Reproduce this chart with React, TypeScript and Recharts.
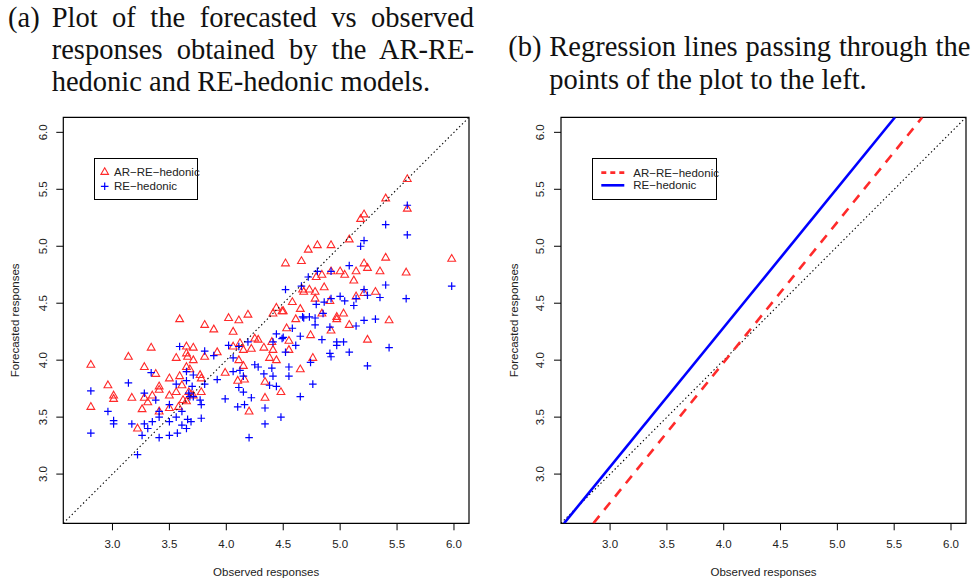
import React from "react";
import { ScatterChart, Scatter, XAxis, YAxis, Legend, ReferenceArea, Label } from "recharts";

// axis setup (same for both panels)
const axisTicks = [3.0, 3.5, 4.0, 4.5, 5.0, 5.5, 6.0];
const axisTickLabels = ["3.0", "3.5", "4.0", "4.5", "5.0", "5.5", "6.0"];
const axisRange = [2.568, 6.132];
const seriesNames = ["AR\u2212RE\u2212hedonic", "RE\u2212hedonic"];

// (observed, forecasted) for the AR-RE-hedonic model
const arPoints = [
  [2.81, 3.96], [2.81, 3.59], [2.96, 3.78], [3.01, 3.69], [3.01, 3.66], [3.14, 4.03], [3.17, 3.67], [3.22, 3.4],
  [3.26, 3.57], [3.28, 3.94], [3.28, 3.67], [3.31, 3.63], [3.34, 4.11], [3.35, 3.69], [3.38, 3.88], [3.41, 3.77],
  [3.41, 3.74], [3.41, 3.55], [3.5, 3.84], [3.5, 3.69], [3.5, 3.58], [3.56, 4.02], [3.56, 3.72], [3.58, 3.59],
  [3.59, 4.36], [3.59, 3.86], [3.61, 3.78], [3.62, 3.65], [3.65, 4.12], [3.65, 3.94], [3.65, 4.06], [3.66, 4.03],
  [3.65, 3.64], [3.67, 3.72], [3.68, 3.92], [3.69, 3.7], [3.71, 4.11], [3.71, 4.0], [3.71, 3.69], [3.77, 3.87],
  [3.78, 3.84], [3.78, 3.72], [3.81, 4.31], [3.81, 4.03], [3.89, 4.27], [3.92, 4.07], [3.99, 3.89], [4.02, 4.37],
  [4.06, 4.25], [4.06, 4.12], [4.1, 3.82], [4.11, 4.35], [4.11, 4.0], [4.12, 4.15], [4.15, 4.09], [4.15, 3.95],
  [4.16, 3.83], [4.19, 4.4], [4.2, 3.55], [4.22, 4.1], [4.25, 4.19], [4.28, 4.18], [4.33, 4.11], [4.34, 3.81],
  [4.34, 3.67], [4.38, 4.02], [4.4, 4.16], [4.41, 4.09], [4.41, 4.41], [4.44, 4.0], [4.44, 4.46], [4.48, 3.72],
  [4.49, 4.43], [4.5, 4.43], [4.52, 4.85], [4.53, 4.28], [4.55, 4.17], [4.55, 4.09], [4.58, 4.51], [4.61, 4.36],
  [4.65, 3.92], [4.65, 4.45], [4.66, 4.87], [4.67, 4.62], [4.68, 4.6], [4.72, 4.97], [4.73, 4.62], [4.74, 4.22],
  [4.76, 4.02], [4.78, 4.6], [4.78, 4.54], [4.79, 4.73], [4.8, 5.01], [4.84, 4.75], [4.84, 4.41], [4.86, 4.64],
  [4.91, 4.52], [4.92, 5.01], [4.92, 4.78], [4.92, 4.26], [4.97, 4.38], [4.97, 4.36], [5.0, 4.78], [5.03, 4.41],
  [5.04, 4.75], [5.08, 5.06], [5.08, 4.31], [5.12, 4.7], [5.14, 4.78], [5.14, 4.56], [5.18, 5.24], [5.21, 5.28],
  [5.21, 4.85], [5.21, 4.59], [5.24, 4.81], [5.24, 4.18], [5.31, 4.6], [5.35, 4.78], [5.4, 5.42], [5.4, 4.9],
  [5.43, 4.35], [5.58, 4.77], [5.59, 5.59], [5.59, 5.33], [5.98, 4.89],
];

// (observed, forecasted) for the RE-hedonic model
const rePoints = [
  [2.81, 3.73], [2.81, 3.36], [2.96, 3.55], [3.01, 3.47], [3.01, 3.44], [3.14, 3.8], [3.17, 3.44], [3.22, 3.17],
  [3.26, 3.34], [3.28, 3.71], [3.28, 3.44], [3.31, 3.4], [3.34, 3.89], [3.35, 3.46], [3.38, 3.65], [3.41, 3.55],
  [3.41, 3.5], [3.41, 3.32], [3.5, 3.61], [3.5, 3.46], [3.5, 3.34], [3.56, 3.79], [3.56, 3.5], [3.57, 3.36],
  [3.59, 4.12], [3.61, 3.55], [3.61, 3.43], [3.65, 3.9], [3.65, 3.82], [3.65, 3.4], [3.66, 3.48], [3.67, 3.71],
  [3.68, 3.68], [3.69, 3.46], [3.7, 3.77], [3.71, 3.87], [3.71, 3.68], [3.77, 3.65], [3.78, 3.61], [3.78, 3.49],
  [3.81, 4.08], [3.81, 3.79], [3.89, 4.04], [3.92, 3.83], [3.99, 3.66], [4.02, 4.13], [4.06, 4.02], [4.06, 3.9],
  [4.1, 3.59], [4.11, 4.12], [4.11, 3.76], [4.12, 3.91], [4.15, 3.86], [4.15, 3.72], [4.16, 3.61], [4.19, 4.16],
  [4.2, 3.32], [4.22, 3.67], [4.25, 3.96], [4.28, 3.94], [4.33, 3.88], [4.34, 3.58], [4.34, 3.44], [4.38, 3.78],
  [4.4, 3.93], [4.41, 3.86], [4.41, 4.16], [4.44, 3.77], [4.44, 4.23], [4.48, 3.5], [4.49, 4.19], [4.5, 4.2],
  [4.52, 4.62], [4.52, 4.07], [4.55, 3.94], [4.55, 3.86], [4.58, 4.28], [4.61, 4.13], [4.65, 3.68], [4.65, 4.21],
  [4.66, 4.65], [4.67, 4.38], [4.68, 4.37], [4.72, 4.73], [4.73, 4.38], [4.74, 3.98], [4.76, 3.79], [4.78, 4.37],
  [4.78, 4.31], [4.79, 4.49], [4.8, 4.78], [4.84, 4.18], [4.85, 4.41], [4.86, 4.51], [4.91, 4.29], [4.92, 4.78],
  [4.92, 4.54], [4.92, 4.03], [4.91, 4.06], [4.97, 4.13], [4.97, 4.16], [5.0, 4.56], [5.03, 4.16], [5.04, 4.52],
  [5.08, 4.83], [5.08, 4.07], [5.12, 4.48], [5.14, 4.54], [5.14, 4.3], [5.18, 5.0], [5.21, 5.05], [5.21, 4.62],
  [5.21, 4.35], [5.24, 4.57], [5.24, 3.95], [5.31, 4.36], [5.35, 4.55], [5.4, 5.19], [5.4, 4.66], [5.43, 4.11],
  [5.58, 4.54], [5.59, 5.36], [5.59, 5.1], [5.98, 4.65],
];

// line end points where they meet the plot frame
const diagonalLine = [[2.568, 2.568], [6.132, 6.132]];
const arFitLine = [[2.853, 2.568], [5.747, 6.132]];
const reFitLine = [[2.595, 2.568], [5.507, 6.132]];

const captionA = [
  "Plot of the forecasted vs observed",
  "responses obtained by the AR-RE-",
  "hedonic and RE-hedonic models.",
];
const captionB = ["Regression lines passing through the", "points of the plot to the left."];

const SANS = "'Liberation Sans', Arial, Helvetica, sans-serif";
const SERIF = "'Liberation Serif', 'Times New Roman', serif";
const RED = "#ff2a2a";
const BLUE = "#0000ff";

const toXY = (pts: number[][]) => pts.map(([x, y]) => ({ x, y }));

const XTick = (props: any) => {
  const { x, y, payload } = props;
  return (
    <text x={x} y={y + 18} textAnchor="middle" fontSize={11.5} fontFamily={SANS} fill="#222">
      {axisTickLabels[axisTicks.indexOf(payload.value)]}
    </text>
  );
};

const YTick = (props: any) => {
  const { x, y, payload } = props;
  const bx = x - 9.5;
  return (
    <text x={bx} y={y} transform={`rotate(-90 ${bx} ${y})`} textAnchor="middle" fontSize={11.5} fontFamily={SANS} fill="#222">
      {axisTickLabels[axisTicks.indexOf(payload.value)]}
    </text>
  );
};

const Triangle = (props: any) => {
  const { cx, cy } = props;
  return (
    <path d={`M${cx},${cy - 4.3}L${cx + 3.9},${cy + 2.5}L${cx - 3.9},${cy + 2.5}Z`} fill="none" stroke={RED} strokeWidth={1.1} />
  );
};

const Plus = (props: any) => {
  const { cx, cy } = props;
  return <path d={`M${cx - 3.8},${cy}H${cx + 3.8}M${cx},${cy - 3.8}V${cy + 3.8}`} stroke={BLUE} strokeWidth={1.2} fill="none" />;
};

const NoDot = () => <g />;

const PointsLegend = () => (
  <div style={{ width: 104, height: 42, border: "1px solid #000", boxSizing: "border-box", background: "#fff" }}>
    <svg width={104} height={42} style={{ overflow: "visible", position: "absolute", left: 0, top: 0 }}>
      <path d="M10.7,9.8L14.5,16.4L6.9,16.4Z" fill="none" stroke={RED} strokeWidth={1.1} />
      <text x={20} y={18} fontSize={11.5} fontFamily={SANS} fill="#222">{seriesNames[0]}</text>
      <path d="M6.9,28.3H14.5M10.7,24.5V32.1" stroke={BLUE} strokeWidth={1.2} />
      <text x={20} y={32.4} fontSize={11.5} fontFamily={SANS} fill="#222">{seriesNames[1]}</text>
    </svg>
  </div>
);

const LinesLegend = () => (
  <div style={{ width: 125, height: 42, border: "1px solid #000", boxSizing: "border-box", background: "#fff" }}>
    <svg width={125} height={42} style={{ overflow: "visible", position: "absolute", left: 0, top: 0 }}>
      <line x1={9.3} x2={32.3} y1={14.6} y2={14.6} stroke={RED} strokeWidth={2.6} strokeDasharray="5 4" />
      <text x={41.3} y={18.6} fontSize={11.5} fontFamily={SANS} fill="#222">{seriesNames[0]}</text>
      <line x1={9.3} x2={32.3} y1={27.3} y2={27.3} stroke={BLUE} strokeWidth={2.6} />
      <text x={41.3} y={31.3} fontSize={11.5} fontFamily={SANS} fill="#222">{seriesNames[1]}</text>
    </svg>
  </div>
);

type PanelProps = {
  left: number;
  width: number;
  yAxisWidth: number;
  marginRight: number;
  yTitleX: number;
  legendLeft: number;
  legendWidth: number;
  lines: boolean;
};

const Panel = ({ left, width, yAxisWidth, marginRight, yTitleX, legendLeft, legendWidth, lines }: PanelProps) => (
  <div style={{ position: "absolute", left, top: 110 }}>
    <ScatterChart width={width} height={470} margin={{ top: 7.3, right: marginRight, bottom: 0, left: 0 }}>
      <XAxis
        type="number"
        dataKey="x"
        domain={axisRange}
        ticks={axisTicks}
        allowDataOverflow
        axisLine={false}
        tickSize={7}
        tickMargin={0}
        tickLine={{ stroke: "#000" }}
        tick={<XTick />}
        height={56.7}
        label={
          <Label
            content={(p: any) => {
              const vb = p.viewBox;
              return (
                <text x={vb.x + vb.width / 2} y={vb.y + 52.7} textAnchor="middle" fontSize={11.5} fontFamily={SANS} fill="#222">
                  Observed responses
                </text>
              );
            }}
          />
        }
      />
      <YAxis
        type="number"
        dataKey="y"
        domain={axisRange}
        ticks={axisTicks}
        allowDataOverflow
        axisLine={false}
        tickSize={7}
        tickMargin={0}
        tickLine={{ stroke: "#000" }}
        tick={<YTick />}
        width={yAxisWidth}
        label={
          <Label
            content={(p: any) => {
              const vb = p.viewBox;
              const bx = vb.x + yTitleX;
              const cy = vb.y + vb.height / 2;
              return (
                <text x={bx} y={cy} transform={`rotate(-90 ${bx} ${cy})`} textAnchor="middle" fontSize={11.5} fontFamily={SANS} fill="#222">
                  Forecasted responses
                </text>
              );
            }}
          />
        }
      />
      {!lines && <Scatter data={toXY(arPoints)} shape={<Triangle />} isAnimationActive={false} />}
      {!lines && <Scatter data={toXY(rePoints)} shape={<Plus />} isAnimationActive={false} />}
      <Scatter
        data={toXY(diagonalLine)}
        shape={<NoDot />}
        line={{ stroke: "#000", strokeWidth: 1.1, strokeDasharray: "1.4 2.6" }}
        isAnimationActive={false}
      />
      {lines && (
        <Scatter
          data={toXY(arFitLine)}
          shape={<NoDot />}
          line={{ stroke: RED, strokeWidth: 2.6, strokeDasharray: "9.5 7.7" }}
          isAnimationActive={false}
        />
      )}
      {lines && (
        <Scatter data={toXY(reFitLine)} shape={<NoDot />} line={{ stroke: BLUE, strokeWidth: 2.6 }} isAnimationActive={false} />
      )}
      <ReferenceArea
        x1={axisRange[0]}
        x2={axisRange[1]}
        y1={axisRange[0]}
        y2={axisRange[1]}
        fill="none"
        fillOpacity={0}
        stroke="#000"
        strokeWidth={1.2}
        ifOverflow="visible"
      />
      <Legend
        verticalAlign="middle"
        layout="horizontal"
        wrapperStyle={{ left: legendLeft, top: 47.7, width: legendWidth, height: 42 }}
        content={() => (lines ? <LinesLegend /> : <PointsLegend />)}
      />
    </ScatterChart>
  </div>
);

const TITLE_SIZE = 28.5;

const lineStyle = (left: number, top: number, width: number, justify: boolean): React.CSSProperties => ({
  position: "absolute",
  left,
  top,
  width,
  fontFamily: SERIF,
  fontSize: TITLE_SIZE,
  lineHeight: `${TITLE_SIZE}px`,
  whiteSpace: "nowrap",
  textAlign: justify ? "justify" : "left",
  textAlignLast: justify ? "justify" : "left",
  color: "#111",
});

const App = () => (
  <div style={{ position: "absolute", left: 0, top: 0, width: 979, height: 580, background: "#fff", overflow: "hidden" }}>
    <div style={lineStyle(8, 3.6, 40, false)}>(a)</div>
    {captionA.map((t, i) => (
      <div key={t} style={lineStyle(51.7, 3.6 + i * 32.4, 422.3, i < captionA.length - 1)}>
        {t}
      </div>
    ))}
    <div style={lineStyle(508.3, 33.1, 40, false)}>(b)</div>
    {captionB.map((t, i) => (
      <div key={t} style={lineStyle(549.3, 33.1 + i * 32.5, 421, i < captionB.length - 1)}>
        {t}
      </div>
    ))}
    <Panel left={0} width={490} yAxisWidth={63.3} marginRight={21} yTitleX={19.5} legendLeft={94.3} legendWidth={104} lines={false} />
    <Panel left={490} width={489} yAxisWidth={71} marginRight={13} yTitleX={27.8} legendLeft={101.7} legendWidth={125} lines={true} />
  </div>
);

export default App;
